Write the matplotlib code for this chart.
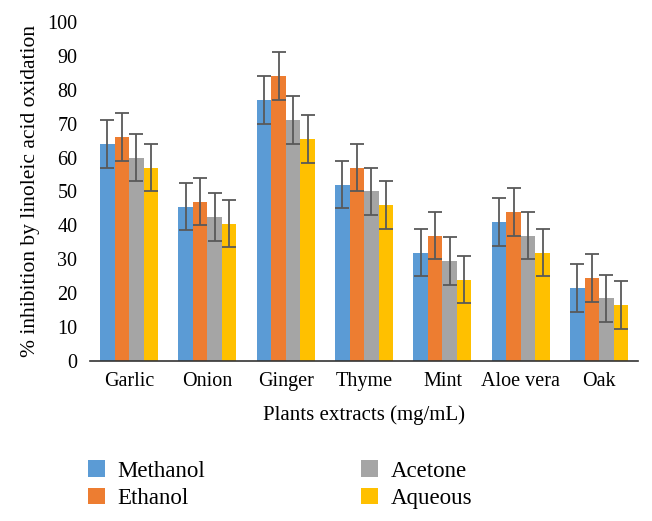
import numpy as np
import matplotlib.pyplot as plt

plants = ["Garlic", "Onion", "Ginger", "Thyme", "Mint", "Aloe vera", "Oak"]
methanol = [64, 45.5, 77, 52, 32, 41, 21.5]
ethanol = [66, 47, 84, 57, 37, 44, 24.5]
acetone = [60, 42.5, 71, 50, 29.5, 37, 18.5]
aqueous = [57, 40.5, 65.5, 46, 24, 32, 16.5]
err = 7

series = [("Methanol", methanol, "#5b9bd5"),
          ("Ethanol", ethanol, "#ed7d31"),
          ("Acetone", acetone, "#a5a5a5"),
          ("Aqueous", aqueous, "#ffc000")]

plt.rcParams["font.family"] = ["Liberation Serif", "DejaVu Serif"]

fig = plt.figure(figsize=(6.52, 5.21), dpi=100)
ax = fig.add_axes([0.138, 0.307, 0.841, 0.651])

x = np.arange(len(plants))
w = 0.185
handles = []
for i, (name, vals, col) in enumerate(series):
    pos = x + (i - 1.5) * w
    b = ax.bar(pos, vals, w, color=col, label=name, zorder=2)
    ax.errorbar(pos, vals, yerr=err, fmt="none", ecolor="#595959",
                elinewidth=1.3, capsize=4.7, capthick=1.3, zorder=3)
    handles.append(b)

ax.set_xlim(-0.5, len(plants) - 0.5)
ax.set_ylim(0, 100)
ax.set_yticks(np.arange(0, 101, 10))
ax.set_xticks(x)
ax.set_xticklabels(plants, fontsize=14.5)
ax.tick_params(axis="y", labelsize=14.5, length=0, pad=9)
ax.tick_params(axis="x", length=0, pad=8)
for s in ["top", "right", "left"]:
    ax.spines[s].set_visible(False)
ax.spines["bottom"].set_color("#333333")
ax.spines["bottom"].set_linewidth(1.2)

ax.set_ylabel("% inhibition by linoleic acid oxidation", fontsize=15.5, labelpad=5)
ax.set_xlabel("Plants extracts (mg/mL)", fontsize=15, labelpad=10)

fig.legend(handles, [s[0] for s in series], ncol=2, loc="upper left",
           bbox_to_anchor=(0.11, 0.147), frameon=False, fontsize=16.5,
           handlelength=0.75, handleheight=0.75, labelspacing=0.25,
           columnspacing=6.8, handletextpad=0.55, borderpad=0.2)

fig.savefig("out.png", dpi=100)
